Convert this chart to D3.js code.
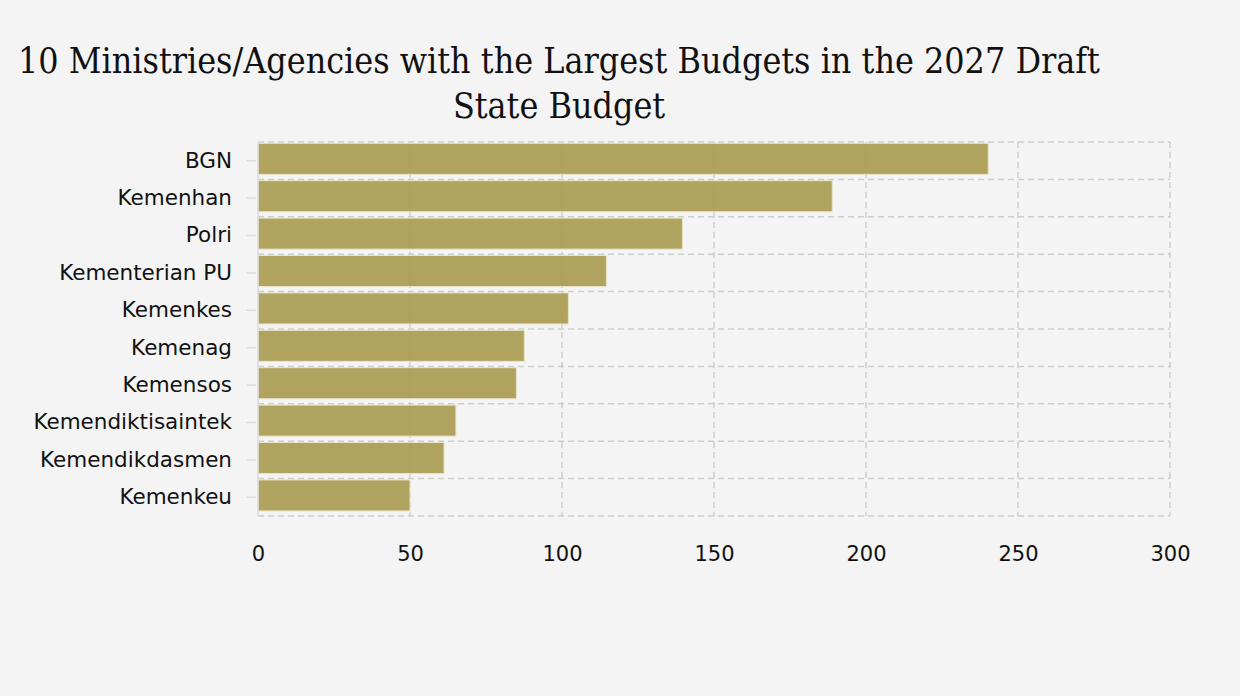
<!DOCTYPE html>
<html>
<head>
<meta charset="utf-8">
<script src="https://cdn.jsdelivr.net/npm/d3@7"></script>
<style>
  html, body { margin: 0; padding: 0; background: #f4f4f4; }
  svg { display: block; }
</style>
</head>
<body>
<div id="chart"></div>
<script>
const titleLines = ["10 Ministries/Agencies with the Largest Budgets in the 2027 Draft", "State Budget"];
const categories = ["BGN", "Kemenhan", "Polri", "Kementerian PU", "Kemenkes", "Kemenag",
    "Kemensos", "Kemendiktisaintek", "Kemendikdasmen", "Kemenkeu"];
const budgets = [240.2, 188.9, 139.6, 114.6, 102.1, 87.6, 85.0, 65.1, 61.2, 50.0];
const xTicks = [0, 50, 100, 150, 200, 250, 300];

const width = 1240, height = 696;
const margin = {top: 142, right: 70, bottom: 180, left: 258};
const innerW = 1170 - margin.left, innerH = 516 - margin.top;

const svg = d3.select("#chart").append("svg")
    .attr("width", width)
    .attr("height", height);

svg.append("rect").attr("width", width).attr("height", height).attr("fill", "#f4f4f4");

// title, two lines centred
svg.append("text")
    .attr("x", 559)
    .attr("y", 73)
    .attr("text-anchor", "middle")
    .style("font-family", "'DejaVu Serif Condensed', 'DejaVu Serif', serif")
    .style("font-size", "35.5px")
    .attr("fill", "#111")
    .selectAll("tspan")
    .data(titleLines)
    .enter().append("tspan")
    .attr("x", 559)
    .attr("dy", (d, i) => i === 0 ? 0 : 45)
    .text(d => d);

const g = svg.append("g").attr("transform", `translate(${margin.left},${margin.top})`);

const x = d3.scaleLinear().domain([0, 300]).range([0, innerW]);
const y = d3.scaleBand().domain(categories).range([0, innerH]).padding(0);

const dash = "6,4";
const gridColor = "#cdcdcd";

// horizontal grid at band edges
const edges = categories.map(c => y(c)).concat([innerH]);
g.append("g").selectAll("line")
    .data(edges)
    .enter().append("line")
    .attr("x1", 0).attr("x2", innerW)
    .attr("y1", d => d).attr("y2", d => d)
    .attr("stroke", gridColor)
    .attr("stroke-width", 1.5)
    .attr("stroke-dasharray", dash);

// vertical grid
g.append("g").selectAll("line")
    .data(xTicks.slice(1))
    .enter().append("line")
    .attr("x1", d => x(d)).attr("x2", d => x(d))
    .attr("y1", 0).attr("y2", innerH)
    .attr("stroke", gridColor)
    .attr("stroke-width", 1.5)
    .attr("stroke-dasharray", dash);

// bars
const bw = y.bandwidth();
g.append("g").selectAll("rect")
    .data(budgets)
    .enter().append("rect")
    .attr("x", 0)
    .attr("y", (d, i) => y(categories[i]) + 1.3)
    .attr("width", d => x(d))
    .attr("height", bw * 0.83)
    .attr("fill", "#a89a50")
    .attr("fill-opacity", 0.9)
    .attr("stroke", "#e8e4c9")
    .attr("stroke-width", 1);

// y axis
const yAxis = g.append("g")
    .call(d3.axisLeft(y).tickSize(12).tickPadding(14));
yAxis.select(".domain").attr("stroke", "#dcdcdc").attr("stroke-width", 1.5)
    .attr("d", `M0,0V${innerH}`);
yAxis.selectAll(".tick line").attr("stroke", "#dcdcdc").attr("stroke-width", 1.5)
    .attr("x1", -2);
yAxis.selectAll(".tick text")
    .style("font-family", "'DejaVu Sans', Verdana, sans-serif")
    .style("font-size", "21.5px")
    .attr("fill", "#111");

// x axis
const xAxis = g.append("g")
    .attr("transform", `translate(0,${innerH})`)
    .call(d3.axisBottom(x).tickValues(xTicks).tickSize(0).tickPadding(30));
xAxis.select(".domain").remove();
xAxis.selectAll(".tick text")
    .style("font-family", "'DejaVu Sans', Verdana, sans-serif")
    .style("font-size", "21px")
    .attr("fill", "#111");
</script>
</body>
</html>
